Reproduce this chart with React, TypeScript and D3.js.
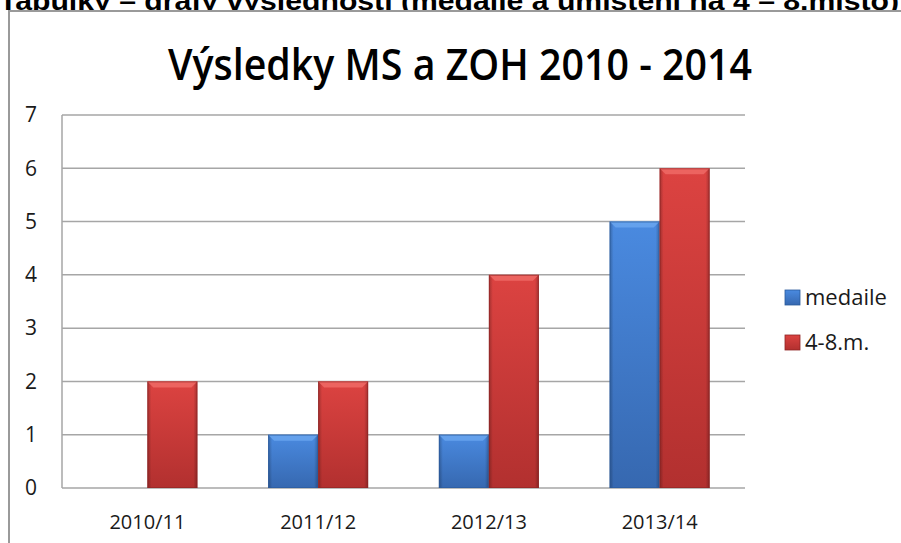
import React from 'react';
import * as d3 from 'd3';

const seasons = ['2010/11', '2011/12', '2012/13', '2013/14'];
const seriesNames = ['medaile', '4-8.m.'];
const medaile = [0, 1, 1, 5];
const umisteni = [2, 2, 4, 6];
const yTicks = [0, 1, 2, 3, 4, 5, 6, 7];

const W = 901;
const H = 543;
const plot = { left: 62, right: 745, top: 115, bottom: 488 };
const font = "'Open Sans', 'Noto Sans', sans-serif";

const App = () => {
  const x0 = d3.scaleBand().domain(seasons).range([plot.left, plot.right]).padding(0);
  const x1 = d3.scaleBand().domain(seriesNames).range([0, x0.bandwidth()])
    .paddingInner(0).paddingOuter(0.707);
  const y = d3.scaleLinear().domain([0, 7]).range([plot.bottom, plot.top]);

  const rows = seasons.map((s, i) => ({ season: s, values: [medaile[i], umisteni[i]] }));
  const colors = ['blue', 'red'];

  const bar = (key, xPos, v, c) => {
    if (v <= 0) return null;
    const bw = x1.bandwidth();
    const top = y(v);
    const h = y(0) - top;
    const bev = 6;
    return (
      <g key={key}>
        <rect x={xPos} y={top} width={bw} height={h} fill={`url(#v-${c})`} />
        <rect x={xPos} y={top} width={bw} height={h} fill="url(#edge)" />
        <path d={`M${xPos},${top}L${xPos + bw},${top}L${xPos + bw - bev},${top + bev}L${xPos + bev},${top + bev}Z`}
          fill={c === 'blue' ? '#6aa6ee' : '#ee6a66'} opacity={0.85} />
        <rect x={xPos + 0.5} y={top + 0.5} width={bw - 1} height={h - 1} fill="none"
          stroke={c === 'blue' ? '#2a5a9c' : '#8e2424'} strokeWidth={1} opacity={0.6} />
      </g>
    );
  };

  return (
    <svg width={W} height={H} style={{ position: 'absolute', left: 0, top: 0, background: '#fff' }}>
      <defs>
        <linearGradient id="v-blue" x1="0" y1="0" x2="0" y2="1">
          <stop offset="0" stopColor="#4a8ae0" />
          <stop offset="1" stopColor="#3668b0" />
        </linearGradient>
        <linearGradient id="v-red" x1="0" y1="0" x2="0" y2="1">
          <stop offset="0" stopColor="#dc4341" />
          <stop offset="1" stopColor="#b2302f" />
        </linearGradient>
        <linearGradient id="edge" x1="0" y1="0" x2="1" y2="0">
          <stop offset="0" stopColor="#000" stopOpacity="0.25" />
          <stop offset="0.08" stopColor="#000" stopOpacity="0" />
          <stop offset="0.92" stopColor="#000" stopOpacity="0" />
          <stop offset="1" stopColor="#000" stopOpacity="0.25" />
        </linearGradient>
      </defs>

      <text x={-1} y={10} fontFamily="'Liberation Sans', Arial, sans-serif" fontWeight="bold" fontSize={25}
        textLength={900} lengthAdjust="spacingAndGlyphs" fill="#000">
        Tabulky – grafy výsledností (medaile a umístění na 4 – 8.místo)
      </text>

      <rect x={9} y={11} width={900} height={540} fill="#fff" stroke="#9a9a9a" strokeWidth={2} />

      <text x={460} y={80} textAnchor="middle" fontFamily={font} fontWeight="600" fontSize={44}
        textLength={584} lengthAdjust="spacingAndGlyphs" fill="#000">
        Výsledky MS a ZOH 2010 - 2014
      </text>

      {yTicks.map(t => (
        <g key={t}>
          <line x1={plot.left} x2={plot.right} y1={y(t)} y2={y(t)} stroke="#a6a6a6" strokeWidth={1.5} />
          <text x={31} y={y(t)} dy="0.35em" textAnchor="middle" fontFamily={font} fontSize={21} fill="#1a1a1a">{t}</text>
        </g>
      ))}
      <line x1={plot.left} x2={plot.left} y1={plot.top} y2={plot.bottom} stroke="#a6a6a6" strokeWidth={1.5} />

      {rows.map(r => (
        <g key={r.season}>
          {r.values.map((v, j) => bar(`${r.season}-${j}`, x0(r.season) + x1(seriesNames[j]), v, colors[j]))}
          <text x={x0(r.season) + x0.bandwidth() / 2} y={522} dy="0.35em" textAnchor="middle"
            fontFamily={font} fontSize={20} fill="#1a1a1a">{r.season}</text>
        </g>
      ))}

      {seriesNames.map((n, i) => (
        <g key={n} transform={`translate(785, ${290 + i * 45})`}>
          <rect x={0} y={0} width={15} height={15} fill={`url(#v-${colors[i]})`}
            stroke={colors[i] === 'blue' ? '#2a5a9c' : '#8e2424'} strokeWidth={0.8} />
          <text x={20} y={7.5} dy="0.35em" fontFamily={font} fontSize={22} fill="#1a1a1a">{n}</text>
        </g>
      ))}
    </svg>
  );
};

export default App;
